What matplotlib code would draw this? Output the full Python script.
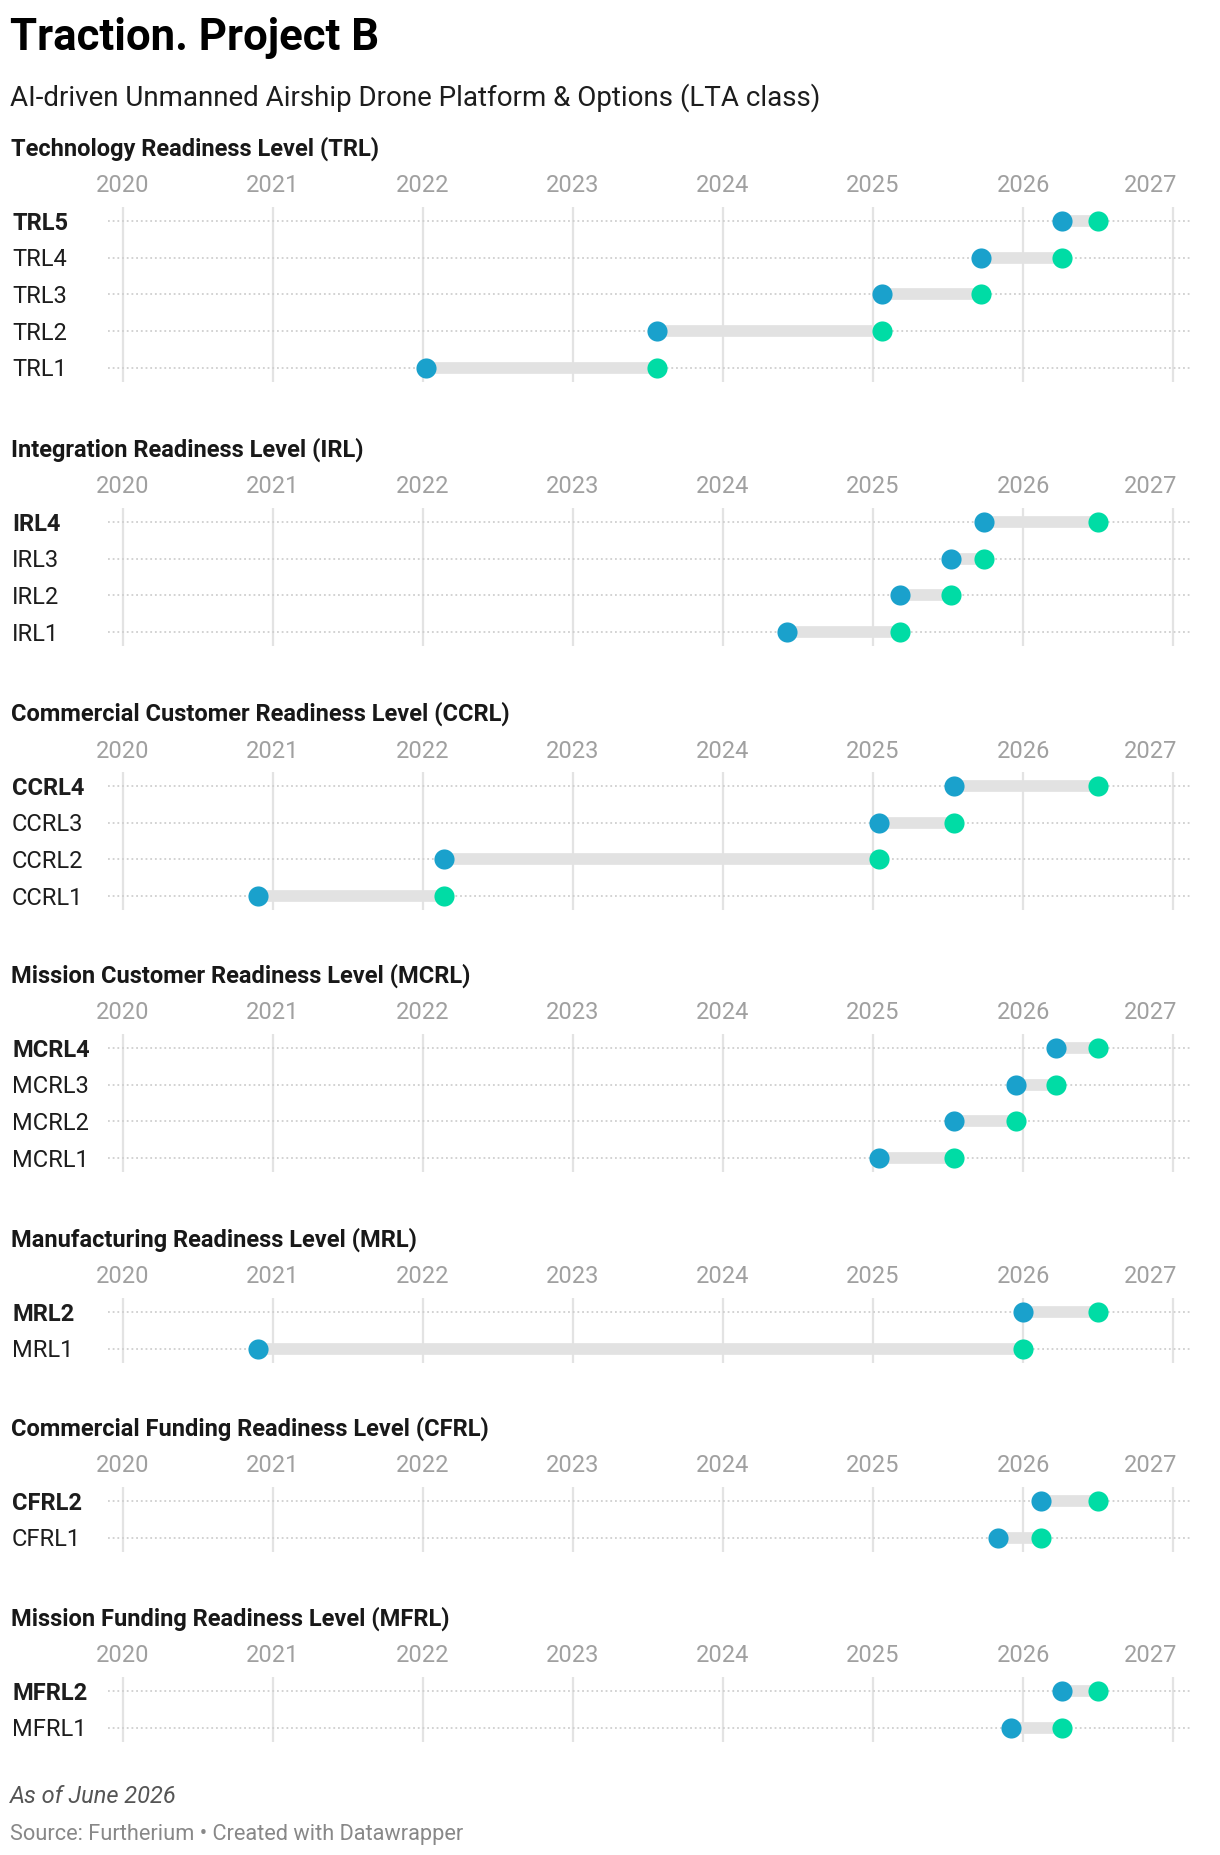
import numpy as np
import matplotlib.pyplot as plt
import matplotlib.transforms as mtransforms

plt.rcParams['font.family'] = ['Roboto', 'DejaVu Sans']

# --- data (years as decimals) ---
years = [2020, 2021, 2022, 2023, 2024, 2025, 2026, 2027]

trl_labels = ["TRL5", "TRL4", "TRL3", "TRL2", "TRL1"]
trl_start = [2026.26, 2025.72, 2025.06, 2023.56, 2022.02]
trl_end = [2026.50, 2026.26, 2025.72, 2025.06, 2023.56]

irl_labels = ["IRL4", "IRL3", "IRL2", "IRL1"]
irl_start = [2025.74, 2025.52, 2025.18, 2024.43]
irl_end = [2026.50, 2025.74, 2025.52, 2025.18]

ccrl_labels = ["CCRL4", "CCRL3", "CCRL2", "CCRL1"]
ccrl_start = [2025.54, 2025.04, 2022.14, 2020.90]
ccrl_end = [2026.50, 2025.54, 2025.04, 2022.14]

mcrl_labels = ["MCRL4", "MCRL3", "MCRL2", "MCRL1"]
mcrl_start = [2026.22, 2025.95, 2025.54, 2025.04]
mcrl_end = [2026.50, 2026.22, 2025.95, 2025.54]

mrl_labels = ["MRL2", "MRL1"]
mrl_start = [2026.00, 2020.90]
mrl_end = [2026.50, 2026.00]

cfrl_labels = ["CFRL2", "CFRL1"]
cfrl_start = [2026.12, 2025.83]
cfrl_end = [2026.50, 2026.12]

mfrl_labels = ["MFRL2", "MFRL1"]
mfrl_start = [2026.26, 2025.92]
mfrl_end = [2026.50, 2026.26]

section_titles = [
    "Technology Readiness Level (TRL)",
    "Integration Readiness Level (IRL)",
    "Commercial Customer Readiness Level (CCRL)",
    "Mission Customer Readiness Level (MCRL)",
    "Manufacturing Readiness Level (MRL)",
    "Commercial Funding Readiness Level (CFRL)",
    "Mission Funding Readiness Level (MFRL)",
]
sections = [
    (trl_labels, trl_start, trl_end),
    (irl_labels, irl_start, irl_end),
    (ccrl_labels, ccrl_start, ccrl_end),
    (mcrl_labels, mcrl_start, mcrl_end),
    (mrl_labels, mrl_start, mrl_end),
    (cfrl_labels, cfrl_start, cfrl_end),
    (mfrl_labels, mfrl_start, mfrl_end),
]

# --- layout (pixels) ---
W, H = 1220, 1856
header_y = [149, 450, 714, 976, 1240, 1429, 1619]
row_step = 36.7
x0_px, yr_px = 122.5, 150.1          # pixel of 2020, pixels per year
ax_left_px, ax_right_px = 108, 1192

blue = "#1aa1cc"
green = "#00dca5"
bar_col = "#e2e2e2"
grid_col = "#e3e3e3"

fig = plt.figure(figsize=(W / 100, H / 100), dpi=100)
fig.patch.set_facecolor("white")

fig.text(10 / W, 1 - 38 / H, "Traction. Project B", fontsize=31.5, fontweight="bold",
         color="#000000", va="center", ha="left")
fig.text(10 / W, 1 - 98 / H, "AI-driven Unmanned Airship Drone Platform & Options (LTA class)",
         fontsize=20, color="#1d1d1d", va="center", ha="left")

for title, (labels, start, end), hy in zip(section_titles, sections, header_y):
    n = len(labels)
    grid_top = hy + 59
    axh = (n - 1) * row_step + 28
    ax = fig.add_axes([ax_left_px / W, 1 - (grid_top + axh) / H,
                       (ax_right_px - ax_left_px) / W, axh / H])
    ax.set_xlim(2020 + (ax_left_px - x0_px) / yr_px, 2020 + (ax_right_px - x0_px) / yr_px)
    pad = 14 / row_step
    ax.set_ylim(n - 1 + pad, -pad)
    ax.axis("off")

    fig.text(11 / W, 1 - hy / H, title, fontsize=17, fontweight="bold",
             color="#181818", va="center", ha="left")

    # vertical year gridlines
    for yr in years:
        ax.axvline(yr, color=grid_col, lw=1.6, zorder=0)

    tr = mtransforms.blended_transform_factory(ax.transData, ax.transAxes)
    for yr in years:
        if yr == years[-1]:
            ax.text(yr + 4 / yr_px, 1 + 22 / axh, str(yr), transform=tr, ha="right",
                    va="center", fontsize=17, color="#a0a0a0")
        else:
            ax.text(yr, 1 + 22 / axh, str(yr), transform=tr, ha="center",
                    va="center", fontsize=17, color="#a0a0a0")

    lab_tr = mtransforms.blended_transform_factory(fig.transFigure, ax.transData)
    for i, lab in enumerate(labels):
        ax.axhline(i, color="#cfcfcf", lw=1.3, ls=(0, (1, 1.6)), zorder=1)
        ax.text(12 / W, i + 0.03, lab, transform=lab_tr, ha="left", va="center",
                fontsize=17, color="#1d1d1d",
                fontweight="bold" if i == 0 else "normal")

    ypos = np.arange(n)
    ax.hlines(ypos, start, end, color=bar_col, lw=8.4, zorder=2)
    ax.scatter(start, ypos, s=210, color=blue, zorder=3, linewidths=0)
    ax.scatter(end, ypos, s=210, color=green, zorder=4, linewidths=0)

fig.text(10 / W, 1 - 1797 / H, "As of June 2026", fontsize=17, style="italic",
         color="#555555", va="center", ha="left")
fig.text(10 / W, 1 - 1835 / H, "Source: Furtherium • Created with Datawrapper", fontsize=15.7,
         color="#888888", va="center", ha="left")

fig.savefig("out.png", dpi=100, facecolor="white")
